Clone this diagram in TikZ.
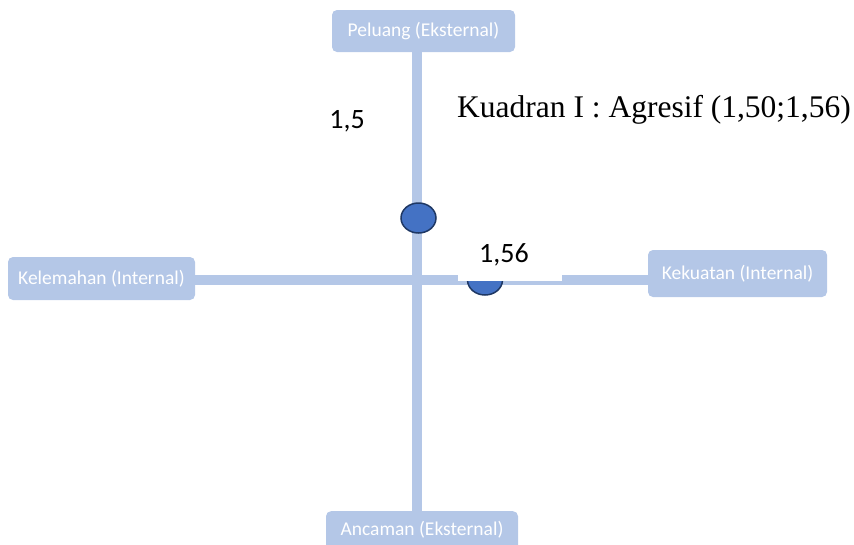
\documentclass[tikz,border=0pt]{standalone}
\usepackage{fontspec}
\usetikzlibrary{shapes.geometric}
\setmainfont{Liberation Serif}
\newfontfamily\calibrifont{Carlito}
\definecolor{boxblue}{HTML}{B4C7E7}
\definecolor{dotblue}{HTML}{4472C4}
\definecolor{dotedge}{HTML}{1F3864}
\begin{document}
\begin{tikzpicture}[x=1pt,y=1pt,
  lbox/.style={fill=boxblue,rounded corners=5pt,text=white,font=\calibrifont\fontsize{19.5}{22}\selectfont,inner sep=0pt},
  axis/.style={draw=boxblue,line width=10pt},
  dot/.style={ellipse,fill=dotblue,draw=dotedge,line width=1.5pt,minimum width=35pt,minimum height=30pt,inner sep=0pt}]
\useasboundingbox (0,0) rectangle (854,-544);
\clip (0,0) rectangle (854,-544);
\node[lbox,minimum width=183pt,minimum height=42pt] (pel) at (423.5,-31) {Peluang (Eksternal)};
\node[lbox,minimum width=187pt,minimum height=43pt] (kel) at (101.5,-278.5) {Kelemahan (Internal)};
\node[lbox,minimum width=179pt,minimum height=47pt] (kek) at (737.5,-273.5) {Kekuatan (Internal)};
\node[lbox,minimum width=192pt,minimum height=48pt,anchor=north] (anc) at (422,-511) {};
\node[text=white,font=\calibrifont\fontsize{19.5}{22}\selectfont] (anct) at (422,-530) {Ancaman (Eksternal)};
\coordinate (vt) at (417,-52);
\coordinate (vb) at (417,-511);
\coordinate (hl) at (195,-280);
\coordinate (hr) at (648,-280);
\draw[axis] (vt) -- (vb);
\draw[axis] (hl) -- (hr);
\node[dot] (d1) at (418.5,-218) {};
\node[dot] (d2) at (485,-280) {};
\node[fill=white,minimum width=104pt,minimum height=46pt,inner sep=0pt] (lab) at (510,-258) {};
\node[font=\calibrifont\fontsize{28}{32}\selectfont] (v156) at (504,-255) {1,56};
\node[font=\calibrifont\fontsize{28}{32}\selectfont] (v15) at (347,-121) {1,5};
\node[font=\fontsize{31.5}{36}\selectfont,anchor=west,inner sep=0pt] (kuad) at (457,-110) {Kuadran I : Agresif (1,50;1,56)};
\end{tikzpicture}
\end{document}
